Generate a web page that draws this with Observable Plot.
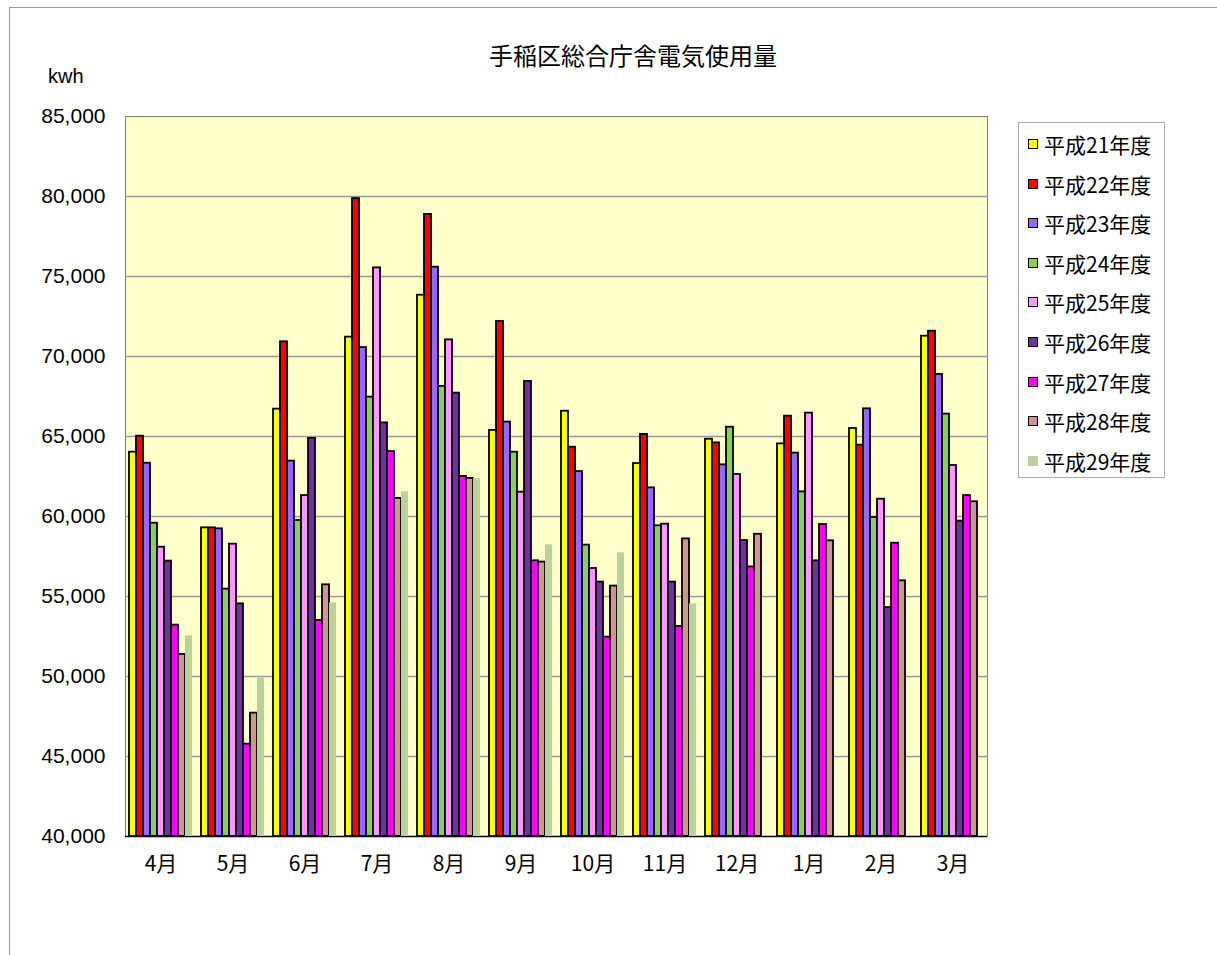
<!DOCTYPE html>
<html><head><meta charset="utf-8">
<script src="https://cdn.jsdelivr.net/npm/d3@7"></script>
<script src="https://cdn.jsdelivr.net/npm/@observablehq/plot@0.6"></script>
<style>
body{margin:0;background:#fff;}
#page{position:relative;width:1217px;height:955px;overflow:hidden;font-family:"Noto Sans CJK JP",sans-serif;color:#000;}
#frame{position:absolute;left:9px;top:7px;width:1300px;height:1000px;border-left:1px solid #999;border-top:1px solid #999;}
#title{position:absolute;left:383px;width:500px;top:40px;text-align:center;font-size:24px;line-height:30px;}
#unit{position:absolute;left:48px;top:63px;font-size:20px;line-height:26px;font-family:"Liberation Sans",sans-serif;}
.layer{position:absolute;left:0;top:100px;}
#legend{position:absolute;left:1018px;top:122px;width:147px;height:356px;border:1px solid #aaa;box-sizing:border-box;background:#fff;}
.item{position:absolute;left:0;height:26px;line-height:26px;font-size:21px;white-space:nowrap;}
.sw{position:absolute;left:9px;top:8px;width:10px;height:10px;box-sizing:border-box;}
.lt{position:absolute;left:25px;top:0;}
</style>
</head><body>
<div id="page">
  <div id="frame"></div>
  <div id="title">手稲区総合庁舎電気使用量</div>
  <div id="unit">kwh</div>
  <div id="bg" class="layer"></div>
  <div id="fg" class="layer"></div>
  <div id="legend"></div>
</div>
<script>
const months = ["4月","5月","6月","7月","8月","9月","10月","11月","12月","1月","2月","3月"];
const series = ["平成21年度","平成22年度","平成23年度","平成24年度","平成25年度","平成26年度","平成27年度","平成28年度","平成29年度"];
const colors = ["#FFFF00","#FF0000","#9966FF","#8FCF50","#FF99FF","#7030A0","#FF00FF","#D09494","#BBD19B"];
const yTicks = [40000,45000,50000,55000,60000,65000,70000,75000,80000,85000];

const h21 = [64020,59290,66710,71210,73830,65380,66580,63310,64830,64540,65500,71270];
const h22 = [65020,59290,70920,79870,78880,72190,64330,65130,64600,66270,64460,71580];
const h23 = [63330,59230,63460,70560,75580,65900,62810,61790,63230,63960,66730,68880];
const h24 = [59580,55460,59750,67460,68130,64020,58210,59420,65580,61540,59940,66400];
const h25 = [58080,58270,61310,75540,71040,61520,56750,59520,62630,66460,61080,63190];
const h26 = [57210,54540,64880,65850,67710,68440,55900,55900,58500,57230,54310,59710];
const h27 = [53210,45770,53500,64060,62500,57230,52460,53130,56850,59500,58330,61310];
const h28 = [51380,47710,55730,61130,62380,57150,55650,58600,58890,58480,55980,60920];
const h29 = [52540,49900,54600,61540,62380,58230,57730,54540,null,null,null,null];

const valueLists = [h21,h22,h23,h24,h25,h26,h27,h28,h29];
const rows = [];
series.forEach((s,i)=>valueLists[i].forEach((v,j)=>{ if (v != null) rows.push({month:months[j], series:s, value:v}); }));
const lastSeries = series[series.length-1];

const W = 1000, H = 800;
const common = {width:W, height:H, marginTop:16, marginBottom:64, marginLeft:125, marginRight:13};

const bg = Plot.plot({
  ...common,
  style:{background:"transparent", fontFamily:"'Liberation Sans', sans-serif", fontSize:"21px", color:"#000", overflow:"visible"},
  x:{domain:months, axis:null},
  y:{domain:[40000,85000], ticks:9, tickFormat:d3.format(","), tickSize:0, tickPadding:20, label:null, line:true},
  marks:[
    Plot.frame({fill:"#FFFFCC", stroke:"#808080"}),
    Plot.ruleY(yTicks.slice(1,-1), {stroke:"#999999", strokeWidth:1.3}),
    Plot.ruleY([40000], {stroke:"#000", strokeWidth:1.5})
  ]
});
document.getElementById("bg").appendChild(bg);

const fg = Plot.plot({
  ...common,
  style:{background:"transparent", fontFamily:"'Noto Sans CJK JP', sans-serif", fontSize:"21px", color:"#000", overflow:"visible"},
  fx:{domain:months, paddingInner:0.13, paddingOuter:0.05, label:null, axis:"bottom", tickSize:0, tickPadding:20},
  x:{domain:series, axis:null, padding:0},
  y:{domain:[40000,85000], axis:null},
  color:{domain:series, range:colors},
  marks:[
    Plot.barY(rows.filter(d=>d.series!==lastSeries), {fx:"month", x:"series", y1:40000, y2:"value", fill:"series", stroke:"#000", strokeWidth:1.8}),
    Plot.barY(rows.filter(d=>d.series===lastSeries), {fx:"month", x:"series", y1:40000, y2:"value", fill:"series"})
  ]
});
document.getElementById("fg").appendChild(fg);

const legend = document.getElementById("legend");
series.forEach((s,i)=>{
  const it = document.createElement("div");
  it.className = "item";
  it.style.top = (8 + i*39.6) + "px";
  const sw = document.createElement("div");
  sw.className = "sw";
  sw.style.background = colors[i];
  if (s !== lastSeries) sw.style.border = "1.5px solid #000";
  const t = document.createElement("div");
  t.className = "lt";
  t.textContent = s;
  it.appendChild(sw); it.appendChild(t);
  legend.appendChild(it);
});
</script>
</body></html>
